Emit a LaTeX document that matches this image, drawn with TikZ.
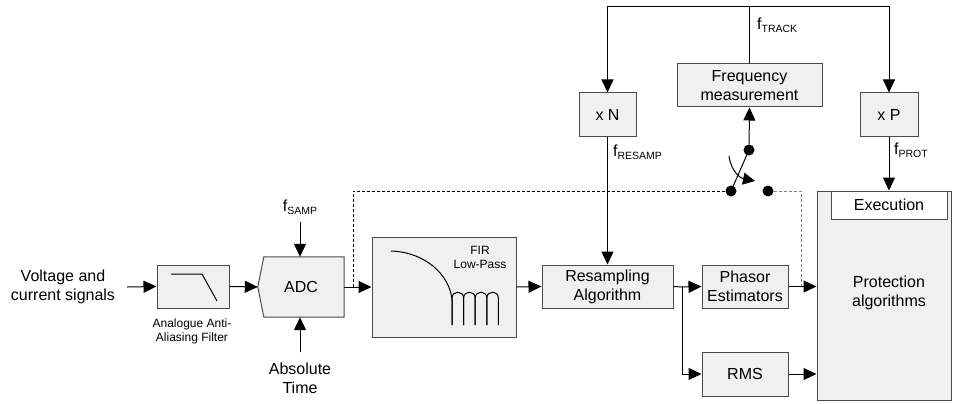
\documentclass[tikz,border=0pt]{standalone}
\usepackage{fontspec}
\setmainfont{Liberation Sans}
\usetikzlibrary{arrows.meta,backgrounds}
\definecolor{boxfill}{HTML}{F0F0F0}
\definecolor{boxline}{HTML}{4A4A4A}
\definecolor{dashgray}{HTML}{808080}
\newcommand{\mainsize}{\fontsize{16}{19}\selectfont}
\newcommand{\smallsize}{\fontsize{12}{14}\selectfont}
\newcommand{\subtxt}[1]{\raisebox{-0.35ex}{\fontsize{10.5}{12}\selectfont #1}}
\begin{document}
\begin{tikzpicture}[x=1pt,y=-1pt,
 box/.style={draw=boxline, fill=boxfill, line width=1pt, inner sep=0pt, align=center, font=\mainsize},
 txt/.style={inner sep=0pt, align=center, font=\mainsize},
 conn/.style={line width=1pt, -{Triangle[length=13pt,width=12pt]}},
 plain/.style={line width=1pt},
 dashblack/.style={line width=0.8pt, dash pattern=on 3pt off 2pt},
 dashgrey/.style={line width=0.8pt, draw=dashgray, dash pattern=on 3pt off 2pt},
 dot/.style={circle, fill=black, inner sep=0pt, minimum size=11pt},
 icon/.style={line width=1pt},
]
\useasboundingbox (0,0) rectangle (954,404);

% input
\node[txt] (vin) at (63,287) {Voltage and\\current signals};
\node[box, minimum width=72pt, minimum height=43pt] (filt) at (193,286.5) {};
\draw[icon] (171,274) -- (202,274) -- (217,301);
\node[txt, font=\smallsize] (filtlbl) at (192,331) {Analogue Anti-\\Aliasing Filter};

% ADC
\node[inner sep=0pt, minimum width=86pt, minimum height=60pt, font=\mainsize] (adc) at (301,287) {ADC};
\begin{scope}[on background layer]
\draw[draw=boxline, fill=boxfill, line width=1pt] (adc.west) -- ([xshift=6pt]adc.north west) -- (adc.north east) -- (adc.south east) -- ([xshift=6pt]adc.south west) -- cycle;
\end{scope}
\node[txt] (fsamp) at (300,207) {f\subtxt{SAMP}};
\node[txt] (abs) at (300,378) {Absolute\\Time};

% FIR
\node[box, minimum width=144pt, minimum height=100pt] (fir) at (444,287) {};
\node[txt, font=\smallsize] (firlbl) at (480,257) {FIR\\Low-Pass};
\draw[icon] (391,251) .. controls (425,252) and (450,275) .. (452,300) -- (452,325);
\draw[icon] (452,325) -- (452,298) .. controls (452,290.3) and (463.6,290.3) .. (463.6,298) -- (463.6,325);
\draw[icon] (463.6,325) -- (463.6,298) .. controls (463.6,290.3) and (475.2,290.3) .. (475.2,298) -- (475.2,325);
\draw[icon] (475.2,325) -- (475.2,298) .. controls (475.2,290.3) and (486.8,290.3) .. (486.8,298) -- (486.8,325);
\draw[icon] (486.8,325) -- (486.8,298) .. controls (486.8,290.3) and (498.4,290.3) .. (498.4,298) -- (498.4,325);

% resampling and frequency tracking
\node[box, minimum width=131pt, minimum height=43pt] (res) at (607.5,286.5) {Resampling\\Algorithm};
\node[box, minimum width=57pt, minimum height=43pt] (xn) at (607.5,114.5) {x N};
\node[box, minimum width=145pt, minimum height=43pt] (freq) at (749.5,85.5) {Frequency\\measurement};
\node[box, minimum width=58pt, minimum height=43pt] (xp) at (889,114.5) {x P};
\node[txt, anchor=west] (ftrack) at (757,25) {f\subtxt{TRACK}};
\node[txt, anchor=west] (fresamp) at (613,152) {f\subtxt{RESAMP}};
\node[txt, anchor=west] (fprot) at (894,150) {f\subtxt{PROT}};

% protection
\node[box, minimum width=134pt, minimum height=209pt] (prot) at (884,295.5) {};
\node[txt] (protlbl) at (889,293) {Protection\\algorithms};
\node[box, fill=white, minimum width=116pt, minimum height=28pt] (exec) at (889,205) {Execution};
\node[box, minimum width=86pt, minimum height=43pt] (ph) at (745,286.5) {Phasor\\Estimators};
\node[box, minimum width=86pt, minimum height=44pt] (rms) at (745,374) {RMS};

% switch
\node[dot] (s1) at (749,150) {};
\node[dot] (s2) at (731,191) {};
\node[dot] (s3) at (768,191) {};
\coordinate (ca1) at (729,156);
\coordinate (ca2) at (755,181);

% coordinates
\coordinate (tm) at (749.5,7);
\coordinate (tl) at (607.5,7);
\coordinate (tr) at (889,7);
\coordinate (dj) at (353,287);
\coordinate (dc) at (353,191);
\coordinate (dr1) at (801,191);
\coordinate (dr2) at (801,287);
\coordinate (br) at (682,287);

% connectors
\draw[conn] ([xshift=12pt]vin.east) -- (filt.west);
\draw[conn] (filt.east) -- (adc.west);
\draw[conn] ([yshift=-7pt]fsamp.south) -- (fsamp.south |- adc.north);
\draw[conn] ([yshift=10pt]abs.north) -- (abs.north |- adc.south);
\draw[conn] (adc.east) -- (fir.west);
\draw[conn] (fir.east) -- (res.west);
\draw[plain] (freq.north) -- (tm);
\draw[conn] (tm) -- (tl) -- (xn.north);
\draw[conn] (tm) -- (tr) -- (xp.north);
\draw[conn] (xn.south) -- (res.north);
\draw[conn] (xp.south) -- (exec.north);
\draw[conn] (s1) -- (freq.south);
\draw[plain] (s2.center) -- (s1.center);
\draw[line width=1pt, -{Triangle[length=12pt,width=12pt]}] (ca1) .. controls (731,171) and (740,178) .. (ca2);
\draw[dashblack] (dj) -- (dc) -- (s2);
\draw[dashgrey] (s3) -- (dr1) -- (dr2);
\draw[plain] (res.east) -- (br);
\draw[conn] (br) -- (ph.west);
\draw[conn] (br) |- (rms.west);
\draw[conn] (ph.east) -- (ph.east -| prot.west);
\draw[conn] (rms.east) -- (rms.east -| prot.west);
\end{tikzpicture}
\end{document}
